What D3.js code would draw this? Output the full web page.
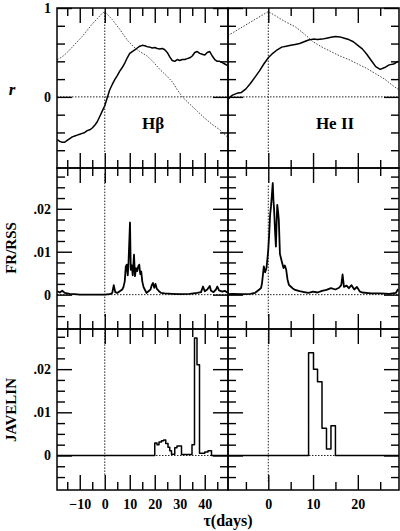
<!DOCTYPE html>
<html><head><meta charset="utf-8">
<script src="https://cdn.jsdelivr.net/npm/d3@7"></script>
<style>
body{margin:0;background:#fff}
svg{display:block;font-family:"Liberation Serif","Times New Roman",serif;font-weight:bold}
</style></head><body>
<div id="chart"></div>
<script>
// ---- top row: cross-correlation (solid) and auto-correlation (dotted) ----
const hbCcfT = [-19,-18,-17,-16,-15,-14,-13,-12,-11,-10,-9,-8,-7,-6,-5,-4,-3,-2,-1,0,1,2,3,4,5,6,7,8,9,10,11,12,13,14,15,16,17,18,19,20,21,22,23,24,25,26,27,28,29,30,31,32,33,34,35,36,37,38,39,40,41,42,43,44,45,46,47,48,49];
const hbCcfR = [-0.48,-0.5,-0.51,-0.51,-0.49,-0.47,-0.45,-0.44,-0.43,-0.42,-0.41,-0.4,-0.38,-0.37,-0.35,-0.32,-0.28,-0.22,-0.16,-0.1,-0.01,0.08,0.14,0.195,0.24,0.29,0.33,0.38,0.44,0.49,0.51,0.53,0.55,0.57,0.58,0.575,0.565,0.56,0.55,0.555,0.545,0.54,0.545,0.53,0.5,0.45,0.41,0.4,0.42,0.41,0.42,0.42,0.43,0.44,0.46,0.5,0.51,0.49,0.48,0.47,0.5,0.51,0.46,0.42,0.4,0.4,0.385,0.37,0.355];
const hbAcfT = [-19,-17,-15,-13,-11,-9,-7,-5,-3,-1,0,1,3,6,9,11.3,14,17,19.5,22,25,27.3,29,31,34,37,40,43,46,49];
const hbAcfR = [0.42,0.45,0.5,0.56,0.62,0.68,0.75,0.82,0.88,0.94,0.96,0.93,0.87,0.76,0.64,0.57,0.51,0.46,0.39,0.31,0.23,0.16,0.08,0,-0.08,-0.16,-0.24,-0.31,-0.37,-0.45];
const heCcfT = [-9,-8.5,-8,-7,-6,-5,-4,-3,-2,-1,0,1,2,3,4,5,6,7,8,9,10,11,12,13,14,15,16,17,18,19,20,21,22,23,24,25,26,27,28,29];
const heCcfR = [-0.03,0,0.02,0.04,0.05,0.09,0.15,0.22,0.29,0.37,0.44,0.49,0.53,0.56,0.57,0.58,0.59,0.6,0.62,0.64,0.65,0.645,0.65,0.66,0.67,0.68,0.675,0.66,0.645,0.62,0.58,0.54,0.48,0.41,0.34,0.31,0.33,0.36,0.37,0.4];
const heAcfT = [-9,0,2,4,6,8,10,12,14,16,18,20,22,24,26,28,29.2];
const heAcfR = [0.69,0.96,0.9,0.84,0.79,0.71,0.62,0.56,0.51,0.46,0.42,0.37,0.32,0.26,0.2,0.12,0.08];

// ---- middle row: FR/RSS ----
const hbFrT = [-19,-18,-17,-16,-15,-14,-12,-10,0,2,3,3.6,4.2,5,6,7,7.5,8,8.4,8.8,9.2,9.5,9.8,10.1,10.4,10.8,11.2,11.7,12.1,12.5,13,13.4,13.8,14.2,14.6,15,15.5,16,16.7,17.5,18.3,18.8,19.3,19.8,20.3,20.8,21.7,22.5,24,27,30,34,37,38.5,39.3,40,41,42,42.5,43.5,44.5,45,45.7,47,48,49];
const hbFrV = [0.0008,0.0005,0.0009,0.0004,0.0003,0.0002,0.0001,0,0,0.0001,0.0004,0.0022,0.0006,0.0004,0.0008,0.0012,0.0018,0.0031,0.0065,0.007,0.0045,0.0074,0.012,0.0168,0.0058,0.0068,0.0045,0.0093,0.0043,0.0062,0.0055,0.0066,0.007,0.0048,0.0054,0.0031,0.0018,0.0012,0.0004,0.0008,0.0012,0.0022,0.0027,0.0016,0.0025,0.0014,0.0008,0.0004,0.0003,0.0002,0.0001,0.0002,0.0004,0.0006,0.0019,0.0008,0.0012,0.002,0.0009,0.0006,0.0012,0.0019,0.001,0.0007,0.0009,0.0005];
const heFrT = [-9,-8,-6,-4,-3,-2.5,-2,-1.6,-1.4,-1.2,-1,-0.7,-0.4,-0.15,0,0.2,0.4,0.6,0.8,1,1.15,1.3,1.5,1.7,1.85,2,2.2,2.35,2.6,3,3.4,3.7,4,4.3,4.6,5,5.4,6,7,8,9,10,11,12,13,14,15,15.8,16.3,16.6,16.9,17.5,18,18.6,19.2,19.8,20.5,21,23,25,27,28.5,29];
const heFrV = [0.0001,0.0002,0.0001,0.0002,0.0004,0.0008,0.0012,0.0016,0.0027,0.0046,0.0066,0.0052,0.0062,0.0088,0.0105,0.014,0.0185,0.0205,0.0232,0.026,0.022,0.0198,0.015,0.0112,0.0165,0.0209,0.0192,0.0174,0.0095,0.0078,0.0062,0.0068,0.0058,0.0035,0.0023,0.0019,0.0015,0.0011,0.0008,0.0006,0.0004,0.0007,0.0005,0.0009,0.0011,0.0015,0.0012,0.0016,0.0022,0.0047,0.0018,0.0021,0.0015,0.0022,0.0012,0.0018,0.0007,0.0005,0.0003,0.0003,0.0002,0.0004,0.0013];

// ---- bottom row: JAVELIN lag histograms (bin starts, values, last bin end) ----
const hbJavT = [20,20.9,21.7,22.7,23.6,24.4,25.3,26,26.7,28,28.9,30.7,34.9,35.9,36.9,37.9,40,41.3];
const hbJavV = [0.0029,0.0025,0.0031,0.0034,0.0036,0.0028,0.0019,0.0011,0.0003,0.0018,0.0022,0.0002,0.0025,0.0272,0.021,0.0005,0.0008,0.0011];
const hbJavEnd = 42.7;
const heJavT = [9,10.1,11,12,13,14];
const heJavV = [0.0238,0.02,0.0171,0.0063,0.0015,0.0069];
const heJavEnd = 15;

const panelLabels = ["H\u03b2", "He II"];
const yTitles = ["r", "FR/RSS", "JAVELIN"];
const xMajor = [[-10,0,10,20,30,40],[0,10,20]];
const xMinor = [[-15,-5,5,15,25,35,45],[-5,5,15,25]];
const yMajor = [[0,1],[0,0.01,0.02],[0,0.01,0.02]];
const yMinor = [[-0.6,-0.4,-0.2,0.2,0.4,0.6,0.8],
  [-0.005,-0.0025,0.0025,0.005,0.0075,0.0125,0.015,0.0175,0.0225,0.025,0.0275],
  [-0.005,-0.0025,0.0025,0.005,0.0075,0.0125,0.015,0.0175,0.0225,0.025,0.0275]];

const width = 400, height = 531;
const svg = d3.select("#chart").append("svg").attr("width", width).attr("height", height);

const cols = [{x0: 57, x1: 228, dom: [-19.1, 49.3]}, {x0: 228, x1: 399, dom: [-9, 29.2]}];
const rows = [{y0: 8, y1: 168, dom: [-0.8, 1]}, {y0: 168, y1: 329, dom: [-0.008, 0.0295]}, {y0: 329, y1: 490, dom: [-0.008, 0.0293]}];

const fmtX = v => v < 0 ? "\u2212" + Math.abs(v) : String(v);
const fmtY = v => v === 0 ? "0" : v === 1 ? "1" : d3.format(".2f")(v).replace(/^0/, "");

function zip(t, v) { return t.map((d, i) => [d, v[i]]); }
function hist(t, v, end, dom) {
  const pts = [[dom[0], 0]];
  t.forEach((d, i) => pts.push([d, v[i]]));
  pts.push([end, 0], [dom[1], 0]);
  return pts;
}

// what goes in each panel: [row][col]
const content = [
  [[{d: zip(hbAcfT, hbAcfR), dot: true}, {d: zip(hbCcfT, hbCcfR)}], [{d: zip(heAcfT, heAcfR), dot: true}, {d: zip(heCcfT, heCcfR)}]],
  [[{d: zip(hbFrT, hbFrV), w: 1.8}], [{d: zip(heFrT, heFrV), w: 1.8}]],
  [[{d: hist(hbJavT, hbJavV, hbJavEnd, cols[0].dom), step: true}], [{d: hist(heJavT, heJavV, heJavEnd, cols[1].dom), step: true}]]
];
const vline = [[[-0.62, 0.955], [-0.62, 0.955]], [[-0.005, 0.0285], [-0.005, 0.0256]], [[-0.0045, 0.029], [-0.006, 0.029]]];

rows.forEach((r, ri) => {
  cols.forEach((c, ci) => {
    const x = d3.scaleLinear().domain(c.dom).range([c.x0, c.x1]);
    const y = d3.scaleLinear().domain(r.dom).range([r.y1, r.y0]);
    const g = svg.append("g");
    const id = "clip" + ri + ci;
    svg.append("clipPath").attr("id", id).append("rect")
      .attr("x", c.x0).attr("y", r.y0).attr("width", c.x1 - c.x0).attr("height", r.y1 - r.y0);
    const plot = g.append("g").attr("clip-path", `url(#${id})`);

    // reference lines
    plot.append("line").attr("x1", c.x0).attr("x2", c.x1).attr("y1", y(0)).attr("y2", y(0))
      .attr("stroke", "#222").attr("stroke-width", 1).attr("stroke-dasharray", "1.5,1.5");
    plot.append("line").attr("x1", x(0)).attr("x2", x(0)).attr("y1", y(vline[ri][ci][0])).attr("y2", y(vline[ri][ci][1]))
      .attr("stroke", "#222").attr("stroke-width", 1).attr("stroke-dasharray", "1.5,1.5");

    content[ri][ci].forEach(s => {
      const line = d3.line().x(d => x(d[0])).y(d => y(d[1]))
        .curve(s.step ? d3.curveStepAfter : d3.curveLinear);
      plot.append("path").attr("d", line(s.d)).attr("fill", "none")
        .attr("stroke", s.dot ? "#444" : "#000")
        .attr("stroke-width", s.dot ? 1 : (s.w || 1.5))
        .attr("stroke-dasharray", s.dot ? "1.5,1.5" : null)
        .attr("stroke-linejoin", "round");
    });

    // axes with inward ticks on all four sides
    const add = (axis, tr) => {
      const a = g.append("g").attr("transform", tr).call(axis);
      a.select(".domain").remove();
      a.attr("font-family", null).attr("font-size", null);
      a.selectAll("line").attr("stroke-width", 1.4);
      a.selectAll("text").attr("font-size", 14).attr("fill", "#000");
    };
    [[xMajor[ci], yMajor[ri], 15, true], [xMinor[ci], yMinor[ri], 8, false]].forEach(([xv, yv, len, lab]) => {
      add(d3.axisBottom(x).tickValues(xv).tickSize(-len).tickPadding(9)
        .tickFormat(lab && ri === 2 ? fmtX : ""), `translate(0,${r.y1})`);
      add(d3.axisTop(x).tickValues(xv).tickSize(-len).tickFormat(""), `translate(0,${r.y0})`);
      add(d3.axisLeft(y).tickValues(yv).tickSize(-len).tickPadding(6)
        .tickFormat(lab && ci === 0 ? fmtY : ""), `translate(${c.x0},0)`);
      add(d3.axisRight(y).tickValues(yv).tickSize(-len).tickFormat(""), `translate(${c.x1},0)`);
    });

    g.append("rect").attr("x", c.x0).attr("y", r.y0).attr("width", c.x1 - c.x0).attr("height", r.y1 - r.y0)
      .attr("fill", "none").attr("stroke", "#000").attr("stroke-width", 1.5);

    if (ri === 0) {
      g.append("text").attr("x", ci === 0 ? 153 : 335).attr("y", 129).attr("text-anchor", "middle")
        .attr("font-size", 17).text(panelLabels[ci]);
    }
  });
});

// axis titles
svg.append("text").attr("x", 12).attr("y", 95).attr("text-anchor", "middle")
  .attr("font-size", 17).attr("font-style", "italic").text(yTitles[0]);
[[248, yTitles[1]], [410, yTitles[2]]].forEach(([cy, t]) => {
  svg.append("text").attr("transform", `translate(16,${cy}) rotate(-90)`).attr("text-anchor", "middle")
    .attr("font-size", 15).text(t);
});
svg.append("text").attr("x", 228).attr("y", 526).attr("text-anchor", "middle")
  .attr("font-size", 16).text("\u03c4(days)");
</script>
</body></html>
